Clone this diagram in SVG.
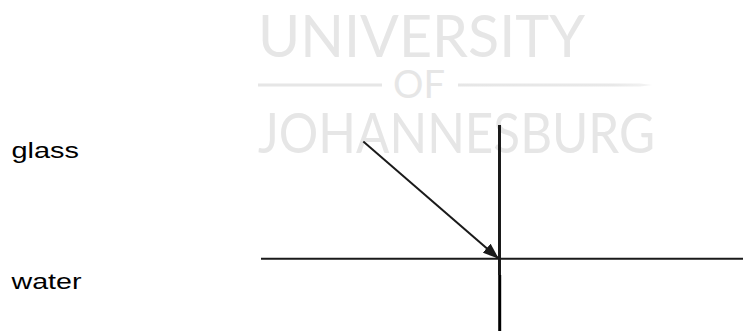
<svg xmlns="http://www.w3.org/2000/svg" width="743" height="331" viewBox="0 0 743 331">
<style>
.wm{font-family:Lato,"Open Sans","Liberation Sans",sans-serif;font-weight:400;fill:#e6e6e6}
.lbl{font-family:"Liberation Sans",Arial,sans-serif;font-size:22px;fill:#000}
.ln{stroke:#1a1a1a;fill:none}
</style>
<defs>
<marker id="ah" markerWidth="8" markerHeight="6" refX="7.5" refY="3" orient="auto" markerUnits="strokeWidth">
<path d="M0,0 L8,3 L0,6 z" fill="#1a1a1a"/>
</marker>
<linearGradient id="fade" x1="0" x2="1" y1="0" y2="0">
<stop offset="0" stop-color="#e6e6e6"/>
<stop offset="0.8" stop-color="#e8e8e8"/>
<stop offset="1" stop-color="#f4f4f4"/>
</linearGradient>
</defs>
<rect width="743" height="331" fill="#fff"/>
<g id="watermark">
<text class="wm" x="258" y="57" font-size="58" textLength="327" lengthAdjust="spacingAndGlyphs">UNIVERSITY</text>
<rect x="258" y="83.5" width="124" height="3" fill="#e6e6e6"/>
<text class="wm" x="393" y="98" font-size="39" textLength="52" lengthAdjust="spacingAndGlyphs">OF</text>
<path d="M458,83.5 L640,83.5 L652,85 L640,86.5 L458,86.5 z" fill="url(#fade)"/>
<text class="wm" x="258" y="153" font-size="55.5" textLength="397" lengthAdjust="spacingAndGlyphs">JOHANNESBURG</text>
</g>
<g id="glass">
<text class="lbl" x="11.5" y="158.3" textLength="67.5" lengthAdjust="spacingAndGlyphs">glass</text>
</g>
<g id="water">
<text class="lbl" x="11.5" y="289.3" textLength="70" lengthAdjust="spacingAndGlyphs">water</text>
</g>
<g id="connectors">
<line class="ln" x1="261" y1="258.7" x2="743" y2="258.7" stroke-width="2"/>
<line class="ln" x1="499.5" y1="125" x2="499.5" y2="275" stroke-width="3"/>
<line x1="499.7" y1="275" x2="499.7" y2="331" stroke="#000" stroke-width="3"/>
<line class="ln" x1="363.3" y1="141.5" x2="498" y2="258" stroke-width="2" marker-end="url(#ah)"/>
</g>
</svg>
